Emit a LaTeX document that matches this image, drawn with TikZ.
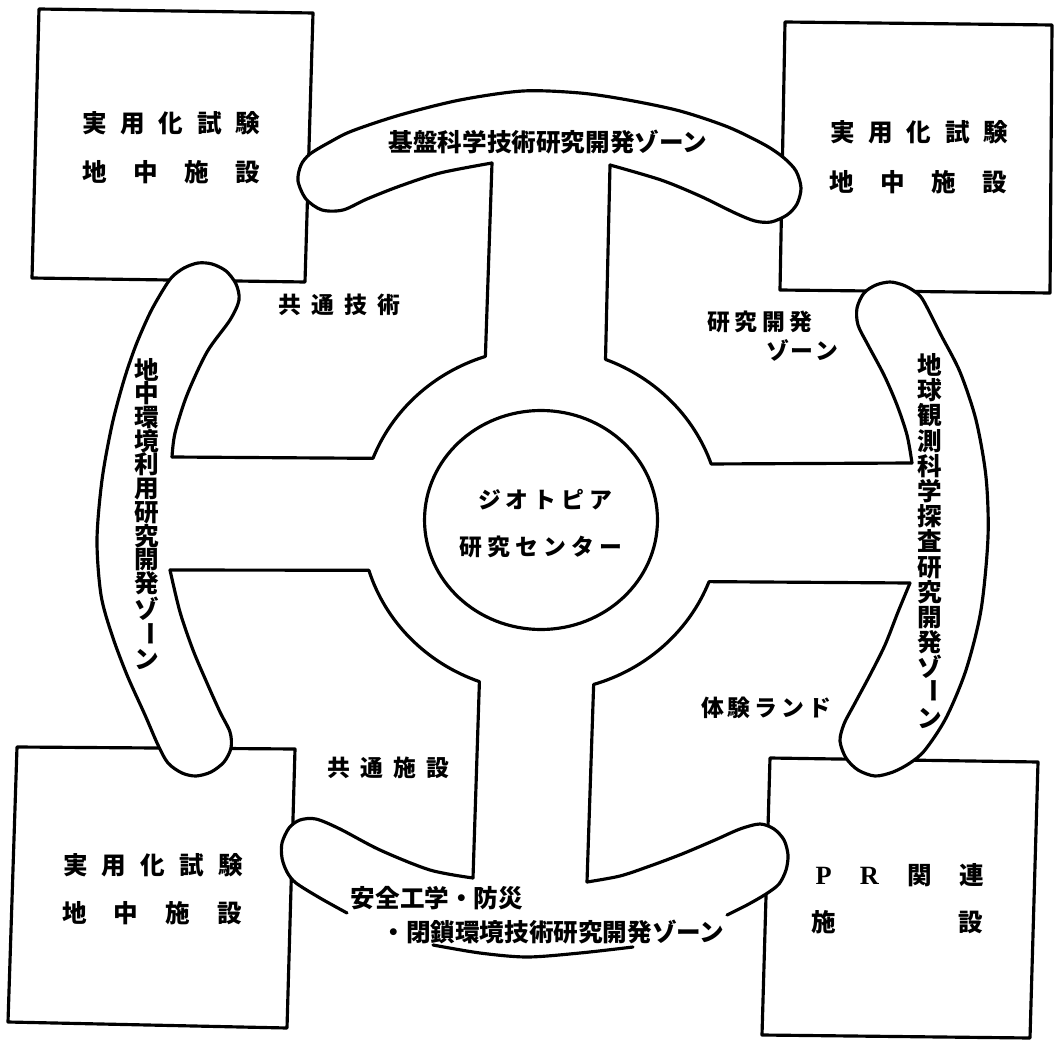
\documentclass[tikz,border=0pt]{standalone}
\usepackage{fontspec}
\usepackage{graphicx}
\newfontfamily\cjk{Noto Sans CJK JP}
\newfontfamily\prfont{Liberation Serif}
\usetikzlibrary{calc,shapes.geometric}
\newcommand\vbar{\raisebox{0.2em}{\rotatebox[origin=c]{-90}{ー}}}
\begin{document}
\begin{tikzpicture}[x=0.02cm,y=-0.02cm,
  ln/.style={line width=1.8pt, line join=round, line cap=round},
  zone/.style={inner sep=0pt, font=\cjk\bfseries\fontsize{14pt}{17pt}\selectfont},
  boxtxt/.style={inner sep=0pt, font=\cjk\bfseries\fontsize{14pt}{17pt}\selectfont},
  qtxt/.style={inner sep=0pt, font=\cjk\bfseries\fontsize{13pt}{16pt}\selectfont},
  vzoneL/.style={inner sep=0pt, align=center, font=\cjk\bfseries\fontsize{14pt}{0.474cm}\selectfont},
  vzoneR/.style={inner sep=0pt, align=center, font=\cjk\bfseries\fontsize{14pt}{0.504cm}\selectfont}]
\useasboundingbox (0,0) rectangle (1058,1040);
\coordinate (c) at (541,520);

% corner boxes
\draw[ln] (39,9) coordinate (tlA) -- (313,13) coordinate (tlB) -- (305,282) coordinate (tlC) -- (32,278) coordinate (tlD) -- cycle;
\draw[ln] (785,22) coordinate (trA) -- (1052,25) coordinate (trB) -- (1050,293) coordinate (trC) -- (780,290) coordinate (trD) -- cycle;
\draw[ln] (17,747) coordinate (blA) -- (295,749) coordinate (blB) -- (287,1028) coordinate (blC) -- (8,1022) coordinate (blD) -- cycle;
\draw[ln] (770,758) coordinate (brA) -- (1038,762) coordinate (brB) -- (1030,1038) coordinate (brC) -- (762,1035) coordinate (brD) -- cycle;

% road corners
\coordinate (tlq) at (492,163); \coordinate (trq) at (610,165);
\coordinate (rtq) at (912,463); \coordinate (rbq) at (910,583);
\coordinate (brq) at (587,882); \coordinate (blq) at (473,878);
\coordinate (lbq) at (170,570); \coordinate (ltq) at (172,457);

% top band: inner edge, lobes, outer edge
\draw[ln, fill=white] plot[smooth] coordinates {(492,163) (440,173) (400,186) (367,199) (343,210) (322,210) (306,199) (298,181) (301,165) (310,154) (330,142) (352,131) (400,115) (460,100) (523,91) (580,93) (628,100) (680,111) (728,127) (765,145) (784,158) (796,171) (801,188) (797,204) (787,215) (771,222) (755,221) (735,213) (700,196) (661,180) (610,165)};
% right band
\draw[ln, fill=white] plot[smooth] coordinates {(912,463) (907,435) (897,405) (884,375) (868,345) (858,325) (857,308) (864,293) (876,285) (890,282) (903,285) (914,291) (923,300) (941,335) (960,372) (976,420) (986,477) (988,537) (981,610) (966,670) (946,718) (925,750) (910,763) (893,772) (875,776) (858,770) (846,758) (840,741) (844,724) (855,703) (870,675) (885,645) (898,612) (910,583)};
% left band
\draw[ln, fill=white] plot[smooth] coordinates {(172,457) (175,433) (187,395) (207,352) (230,320) (239,300) (236,284) (226,271) (212,264) (198,263) (184,268) (172,277) (163,290) (150,313) (136,345) (124,380) (112,425) (102,480) (97,540) (101,595) (112,635) (127,675) (145,715) (158,745) (168,763) (182,773) (196,776) (211,772) (224,762) (231,748) (230,732) (220,712) (207,683) (193,650) (180,612) (170,570)};
% bottom band
\fill[white] plot[smooth] coordinates {(473,878) (430,870) (380,850) (340,829) (316,819) (300,820) (289,828) (282,843) (282,858) (287,872) (296,883) (320,898) (347,913)} -- plot[smooth] coordinates {(727,915) (747,905) (766,894) (779,884) (786,870) (788,855) (784,840) (774,829) (760,824) (740,829) (715,840) (682,854) (650,866) (620,876) (587,882)} -- cycle;
\draw[ln] plot[smooth] coordinates {(473,878) (430,870) (380,850) (340,829) (316,819) (300,820) (289,828) (282,843) (282,858) (287,872) (296,883) (320,898) (347,913)};
\draw[ln] plot[smooth] coordinates {(433,945) (480,953) (527,957) (580,953) (633,947)};
\draw[ln] plot[smooth] coordinates {(727,915) (747,905) (766,894) (779,884) (786,870) (788,855) (784,840) (774,829) (760,824) (740,829) (715,840) (682,854) (650,866) (620,876) (587,882)};

% cross roads and ring
\draw[ln] (tlq) -- ($(c)+(252:180 and 172)$) arc[start angle=-252, end angle=-201, x radius=3.6cm, y radius=3.44cm] -- (ltq);
\draw[ln] (trq) -- ($(c)+(291:180 and 172)$) arc[start angle=-291, end angle=-341, x radius=3.6cm, y radius=3.44cm] -- (rtq);
\draw[ln] (rbq) -- ($(c)+(21:180 and 172)$) arc[start angle=-21, end angle=-73, x radius=3.6cm, y radius=3.44cm] -- (brq);
\draw[ln] (lbq) -- ($(c)+(163:180 and 172)$) arc[start angle=-163, end angle=-110, x radius=3.6cm, y radius=3.44cm] -- (blq);

% centre
\node[draw, ellipse, line width=1.8pt, minimum width=4.66cm, minimum height=4.38cm, inner sep=0pt] (core) at (541,520) {};
\node[qtxt] (geo) at (545,500) {\makebox[2.68cm]{ジ\hfill オ\hfill ト\hfill ピ\hfill ア}};
\node[qtxt] (cen) at (541,547) {\makebox[3.26cm]{研\hfill 究\hfill セ\hfill ン\hfill タ\hfill ー}};

% box texts
\node[boxtxt] (tl1) at (171,123) {\makebox[3.56cm]{実\hfill 用\hfill 化\hfill 試\hfill 験}};
\node[boxtxt] (tl2) at (171,172) {\makebox[3.56cm]{地\hfill 中\hfill 施\hfill 設}};
\node[boxtxt] (tr1) at (919,132) {\makebox[3.56cm]{実\hfill 用\hfill 化\hfill 試\hfill 験}};
\node[boxtxt] (tr2) at (918,182) {\makebox[3.56cm]{地\hfill 中\hfill 施\hfill 設}};
\node[boxtxt] (bl1) at (153,865) {\makebox[3.6cm]{実\hfill 用\hfill 化\hfill 試\hfill 験}};
\node[boxtxt] (bl2) at (152,913) {\makebox[3.6cm]{地\hfill 中\hfill 施\hfill 設}};
\node[boxtxt] (br1) at (900,875) {\makebox[3.38cm]{{\prfont\bfseries\fontsize{15pt}{17pt}\selectfont P}\hfill {\prfont\bfseries\fontsize{15pt}{17pt}\selectfont R}\hfill 関\hfill 連}};
\node[boxtxt] (br2) at (897,922) {\makebox[3.44cm]{施\hfill 設}};

% quadrant labels
\node[qtxt] (q1) at (339,305) {\makebox[2.44cm]{共\hfill 通\hfill 技\hfill 術}};
\node[qtxt] (q2a) at (760,322) {\makebox[2.1cm]{研\hfill 究\hfill 開\hfill 発}};
\node[qtxt] (q2b) at (802,350) {\makebox[1.44cm]{ゾ\hfill ー\hfill ン}};
\node[qtxt] (q3) at (388,768) {\makebox[2.44cm]{共\hfill 通\hfill 施\hfill 設}};
\node[qtxt] (q4) at (766,708) {\makebox[2.6cm]{体\hfill 験\hfill ラ\hfill ン\hfill ド}};

% zone labels
\node[zone] (ztop) at (548,142) {基盤科学技術研究開発ゾーン};
\node[vzoneL] (zleft) at (147,514) {地\\中\\環\\境\\利\\用\\研\\究\\開\\発\\ゾ\\\vbar\\ン};
\node[vzoneR] (zright) at (930,541) {地\\球\\観\\測\\科\\学\\探\\査\\研\\究\\開\\発\\ゾ\\\vbar\\ン};
\node[zone] (zb1) at (437,898) {安全工学・防災};
\node[zone] (zb2) at (553,932) {・閉鎖環境技術研究開発ゾーン};
\end{tikzpicture}
\end{document}
